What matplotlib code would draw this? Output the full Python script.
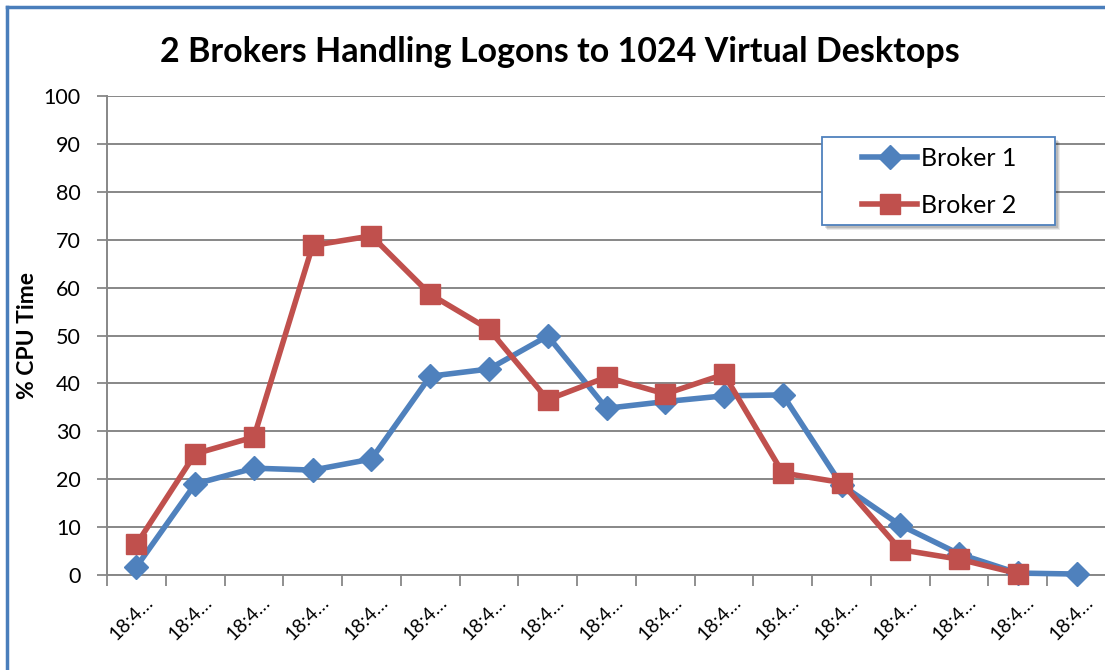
import matplotlib
matplotlib.use("Agg")
import matplotlib.pyplot as plt
from matplotlib.lines import Line2D
from matplotlib.patches import Rectangle
import matplotlib.transforms as mtransforms

# ── data ──
time_labels = ["18:4…"] * 17
broker1 = [1.7, 19.0, 22.3, 21.9, 24.2, 41.5, 43.0, 49.9, 34.8, 36.2, 37.4, 37.6,
           18.8, 10.4, 4.4, 0.4, 0.2]
broker2 = [6.4, 25.3, 28.8, 68.8, 70.8, 58.6, 51.3, 36.6, 41.3, 37.8, 41.9, 21.3,
           19.3, 5.3, 3.3, 0.3]

BLUE = "#4F81BD"
RED = "#C0504D"
GRID = "#878787"

plt.rcParams.update({
    "font.family": ["Lato", "DejaVu Sans"],
})

fig = plt.figure(figsize=(11.05, 6.70), dpi=100)
W, H = 1105, 670
ax = fig.add_axes([107 / W, 1 - 575 / H, (1106 - 107) / W, (575 - 96) / H])

x1 = list(range(len(broker1)))
x2 = list(range(len(broker2)))
ax.plot(x1, broker1, color=BLUE, linewidth=4.0, marker="D", markersize=12,
        markerfacecolor=BLUE, markeredgecolor=BLUE, label="Broker 1", zorder=3,
        clip_on=False)
ax.plot(x2, broker2, color=RED, linewidth=4.0, marker="s", markersize=14,
        markerfacecolor=RED, markeredgecolor=RED, label="Broker 2", zorder=4,
        clip_on=False)

ax.set_xlim(-0.5, len(broker1) - 0.5)
ax.set_ylim(0, 100)
ax.set_yticks(range(0, 101, 10))
ax.tick_params(axis="y", labelsize=15.5, length=7, width=1.3, color=GRID, pad=12)
ax.yaxis.grid(True, color=GRID, linewidth=1.4)
ax.set_axisbelow(True)

# category labels in the middle, tick marks on the boundaries
ax.set_xticks(x1)
ax.set_xticklabels(time_labels, rotation=45, ha="center", va="center",
                   rotation_mode="anchor", fontsize=14)
ax.tick_params(axis="x", which="major", length=0, pad=31)
shift = mtransforms.ScaledTranslation(-5 / 100, 0, fig.dpi_scale_trans)
for lab in ax.get_xticklabels():
    lab.set_transform(lab.get_transform() + shift)
ax.set_xticks([i - 0.5 for i in range(len(broker1) + 1)], minor=True)
ax.tick_params(axis="x", which="minor", length=8, width=1.3, color=GRID)

for side in ["top", "right"]:
    ax.spines[side].set_visible(False)
for side in ["left", "bottom"]:
    ax.spines[side].set_color(GRID)
    ax.spines[side].set_linewidth(1.4)

ax.set_ylabel("% CPU Time", fontsize=16.5, fontweight="bold", labelpad=4)

fig.text(0.507, 1 - 52 / H, "2 Brokers Handling Logons to 1024 Virtual Desktops",
         ha="center", va="center", fontsize=24.5, fontweight="bold")

# legend box drawn separately so its padding matches the original
bx, by, bw, bh = 822 / W, 1 - 225 / H, (1055 - 822) / W, (225 - 137) / H
for off, alpha in [(5, 0.08), (4, 0.10), (3, 0.12)]:
    fig.add_artist(Rectangle((bx + off / W, by - off / H), bw, bh,
                             transform=fig.transFigure, facecolor="black",
                             edgecolor="none", alpha=alpha, zorder=4.9))
fig.add_artist(Rectangle((bx, by), bw, bh, transform=fig.transFigure,
                         facecolor="white", edgecolor=BLUE, linewidth=1.3,
                         zorder=5))

leg = ax.legend(loc="upper left", bbox_to_anchor=(862 / W, 1 - 147 / H),
                bbox_transform=fig.transFigure, fontsize=18, frameon=False,
                borderpad=0, handlelength=2.2, labelspacing=0.95,
                handletextpad=0.15, borderaxespad=0)
leg.set_zorder(6)
leg.remove()
fig.add_artist(leg)

# outer chart border (left and top visible)
fig.add_artist(Line2D([7 / W, 7 / W], [0, 1 - 7 / H], transform=fig.transFigure,
                      color="#4A7EBB", linewidth=2.5))
fig.add_artist(Line2D([7 / W, 1], [1 - 7 / H, 1 - 7 / H], transform=fig.transFigure,
                      color="#4A7EBB", linewidth=2.5))

fig.savefig("out.png", dpi=100)
